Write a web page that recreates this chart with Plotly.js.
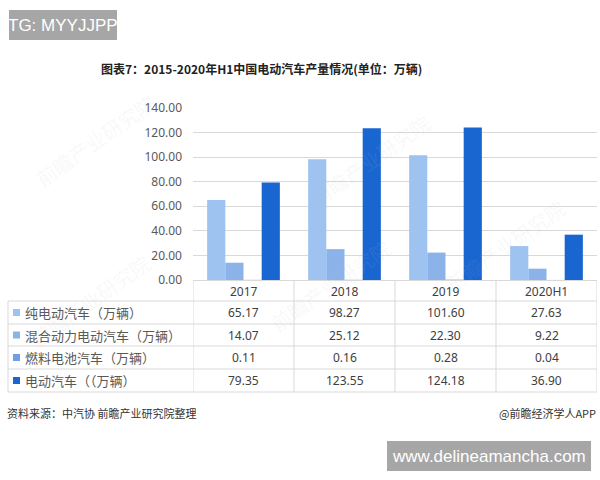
<!DOCTYPE html>
<html><head><meta charset="utf-8">
<script src="https://cdn.plot.ly/plotly-3.0.1.min.js"></script>
<style>html,body{margin:0;padding:0;background:#fff}#chart{width:600px;height:480px}</style>
</head><body><div id="chart"></div>
<script>
// ---- data ----
const categories = ['2017', '2018', '2019', '2020H1'];
const seriesNames = ['纯电动汽车（万辆）', '混合动力电动汽车（万辆）', '燃料电池汽车（万辆）', '电动汽车（（万辆）'];
const bev = [65.17, 98.27, 101.60, 27.63];
const phev = [14.07, 25.12, 22.30, 9.22];
const fcev = [0.11, 0.16, 0.28, 0.04];
const ev = [79.35, 123.55, 124.18, 36.90];
const yTicks = [0, 20, 40, 60, 80, 100, 120, 140];
const titleText = '图表7：2015-2020年H1中国电动汽车产量情况(单位：万辆)';
const sourceText = '资料来源：中汽协 前瞻产业研究院整理';
const creditText = '@前瞻经济学人APP';
const tagText = 'TG: MYYJJPP';
const siteText = 'www.delineamancha.com';
const watermarkText = '前瞻产业研究院';

// ---- styling ----
const colors = ['#9ec3f0', '#8bb3ea', '#6e9fe2', '#1a66d1'];
const seriesValues = [bev, phev, fcev, ev];
const W = 600, H = 480;
const plotL = 193, plotR = 597, plotT = 108, plotB = 280;
const px = x => (x - plotL) / (plotR - plotL);
const py = y => (plotB - y) / (plotB - plotT);
const cjk = '"Noto Sans CJK SC", "Noto Sans", sans-serif';
const num = '"Noto Sans", "Open Sans", sans-serif';
const gridCol = '#d9d9d9';

const traces = seriesValues.map((vals, i) => ({
  type: 'bar', name: seriesNames[i], x: categories, y: vals,
  marker: {color: colors[i]}, hoverinfo: 'skip'
}));

const shapes = [];
const annotations = [];

// faint watermarks (drawn first, underneath)
[[95, 140], [370, 160], [505, 245], [90, 300], [330, 285]].forEach(p => annotations.push({
  xref: 'paper', yref: 'paper', x: px(p[0]), y: py(p[1]), text: watermarkText, showarrow: false, textangle: -35,
  font: {family: cjk, size: 20, color: 'rgba(190,190,190,0.10)'}, xanchor: 'center', yanchor: 'middle'}));

// table geometry
const rowLines = [301, 324, 346, 369, 392];
const rowCenters = [312.5, 335, 357.5, 380.5];
shapes.push({type: 'line', xref: 'paper', yref: 'paper', x0: 0, x1: 1, y0: py(280.5), y1: py(280.5), line: {color: gridCol, width: 1}});
rowLines.forEach(y => shapes.push({type: 'line', xref: 'paper', yref: 'paper', x0: px(8), x1: px(597), y0: py(y), y1: py(y), line: {color: gridCol, width: 1}}));
for (let i = 0; i <= categories.length; i++) {
  shapes.push({type: 'line', xref: 'x', yref: 'paper', x0: i - 0.5, x1: i - 0.5, y0: py(280.5), y1: py(392), line: {color: gridCol, width: 1}});
}
shapes.push({type: 'line', xref: 'paper', yref: 'paper', x0: px(8), x1: px(8), y0: py(301), y1: py(392), line: {color: gridCol, width: 1}});

// header labels (category index positions on the x axis)
categories.forEach((c, ci) => annotations.push({xref: 'x', yref: 'paper', x: ci, y: py(291), text: c, showarrow: false,
  font: {family: num, size: 12, color: '#404040'}, xanchor: 'center', yanchor: 'middle'}));
// rows
seriesValues.forEach((vals, r) => {
  shapes.push({type: 'rect', xref: 'paper', yref: 'paper', x0: px(13), x1: px(20), y0: py(rowCenters[r] - 3.5), y1: py(rowCenters[r] + 3.5), fillcolor: colors[r], line: {width: 0}});
  annotations.push({xref: 'paper', yref: 'paper', x: px(23), y: py(rowCenters[r]), text: seriesNames[r], showarrow: false,
    font: {family: cjk, size: 13, color: '#595959'}, xanchor: 'left', yanchor: 'middle'});
  vals.forEach((v, c) => annotations.push({xref: 'x', yref: 'paper', x: c, y: py(rowCenters[r]), text: v.toFixed(2), showarrow: false,
    font: {family: num, size: 12, color: '#404040'}, xanchor: 'center', yanchor: 'middle'}));
});

// title
annotations.push({xref: 'paper', yref: 'paper', x: px(261), y: py(68), text: '<b>' + titleText + '</b>', showarrow: false,
  font: {family: cjk, size: 12, color: '#222'}, xanchor: 'center', yanchor: 'middle'});
// footer
annotations.push({xref: 'paper', yref: 'paper', x: px(5), y: py(413), text: sourceText, showarrow: false,
  font: {family: cjk, size: 11, color: '#333'}, xanchor: 'left', yanchor: 'middle'});
annotations.push({xref: 'paper', yref: 'paper', x: px(598), y: py(413), text: creditText, showarrow: false,
  font: {family: cjk, size: 11, color: '#333'}, xanchor: 'right', yanchor: 'middle'});
// tag boxes
shapes.push({type: 'rect', xref: 'paper', yref: 'paper', x0: px(9), x1: px(117), y0: py(10), y1: py(40), fillcolor: '#a6a6a6', line: {width: 0}});
annotations.push({xref: 'paper', yref: 'paper', x: px(63), y: py(25.5), text: tagText, showarrow: false,
  font: {family: 'Liberation Sans, Arial, sans-serif', size: 17, color: '#fff'}, xanchor: 'center', yanchor: 'middle'});
shapes.push({type: 'rect', xref: 'paper', yref: 'paper', x0: px(387), x1: px(591), y0: py(441), y1: py(471), fillcolor: '#a6a6a6', line: {width: 0}});
annotations.push({xref: 'paper', yref: 'paper', x: px(489), y: py(456), text: siteText, showarrow: false,
  font: {family: 'Liberation Sans, Arial, sans-serif', size: 17, color: '#fff'}, xanchor: 'center', yanchor: 'middle'});

const layout = {
  width: W, height: H,
  margin: {l: plotL, r: W - plotR, t: plotT, b: H - plotB, pad: 0},
  paper_bgcolor: '#fff', plot_bgcolor: '#fff',
  showlegend: false, barmode: 'group', bargap: 0.28, bargroupgap: 0,
  xaxis: {type: 'category', range: [-0.5, 3.5], showticklabels: false, showgrid: false, zeroline: false, showline: false, ticks: ''},
  yaxis: {range: [0, 140], tickvals: yTicks, tickformat: '.2f', showgrid: true, gridcolor: gridCol, gridwidth: 1,
    zeroline: false, showline: false, ticks: '', ticklabelstandoff: 10,
    tickfont: {family: num, size: 12, color: '#595959'}},
  shapes: shapes, annotations: annotations
};
Plotly.newPlot('chart', traces, layout, {staticPlot: true, displayModeBar: false});
</script></body></html>
